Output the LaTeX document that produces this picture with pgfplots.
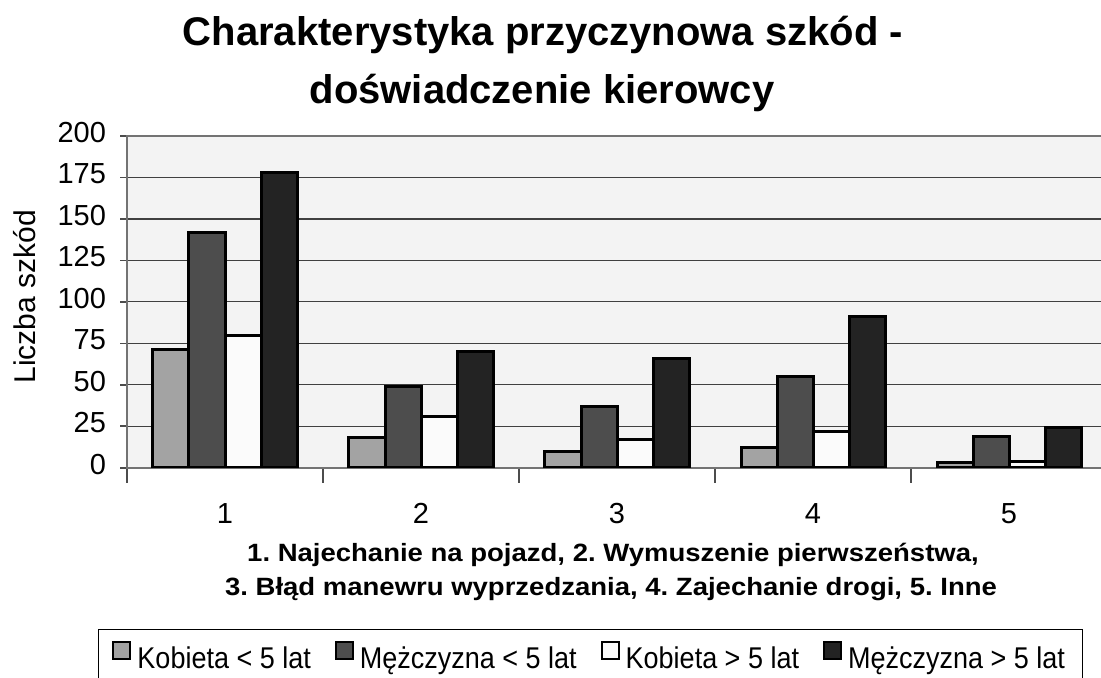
\documentclass[border=0pt]{standalone}
\usepackage{fontspec}
\setmainfont{Liberation Sans}
\newfontfamily\legfont[FakeStretch=0.9]{Liberation Sans}
\newfontfamily\xlabfont[FakeStretch=1.1]{Liberation Sans}
\usepackage{pgfplots}
\pgfplotsset{compat=1.18}
\definecolor{cA}{HTML}{A3A3A3}
\definecolor{cB}{HTML}{4D4D4D}
\definecolor{cC}{HTML}{FBFBFB}
\definecolor{cD}{HTML}{232323}
\definecolor{bggray}{HTML}{F3F3F3}
\begin{document}
\frenchspacing
\begin{tikzpicture}[x=1pt,y=1pt]
\useasboundingbox (0,0) rectangle (550.5,338.5);
\begin{axis}[
  at={(63.5pt,104.65pt)}, anchor=south west,
  scale only axis, width=490pt, height=165.85pt,
  xmin=0.5, xmax=5.5, ymin=0, ymax=200,
  ytick={0,25,...,200},
  xtick={1,2,3,4,5},
  minor xtick={0.5,1.5,2.5,3.5,4.5,5.5},
  xtick pos=bottom, ytick pos=left,
  tick align=outside,
  major tick length=3.5pt, minor tick length=7.5pt,
  major x tick style={draw=none},
  minor x tick style={draw=black!70, line width=0.8pt},
  ytick style={draw=black!70, line width=0.8pt},
  ymajorgrids,
  grid style={draw=black!75, line width=0.6pt},
  axis line style={draw=gray!90!black, line width=1.2pt},
  axis background/.style={fill=bggray},
  /pgf/number format/assume math mode=true,
  typeset ticklabels with strut,
  tick label style={font=\fontsize{14.5}{16}\selectfont},
  yticklabel style={xshift=-3.5pt},
  xticklabel style={yshift=-9.5pt},
  ylabel={Liczba szkód},
  ylabel style={at={(axis description cs:-0.104,0.515)}, anchor=center, font=\fontsize{15}{17}\selectfont},
  ybar, bar width=0.1837,
  every axis plot/.append style={draw=black, line width=1.5pt},
  legend columns=4,
  legend image code/.code={\draw[#1, line width=1pt] (0pt,0pt) rectangle (8.5pt,8.5pt);},
  legend style={at={(-0.0296,-0.486)}, anchor=north west, draw=black, line width=0.5pt,
    font=\legfont\fontsize{15}{18}\selectfont, inner xsep=7pt, inner ysep=6pt,
    /tikz/every odd column/.append style={column sep=1pt},
    /tikz/every even column/.append style={column sep=10pt},
    nodes={inner xsep=2pt}},
]
\addplot[fill=cA, bar shift=-0.27555] coordinates {(1,71) (2,18) (3,10) (4,12) (5,3)};
\addplot[fill=cB, bar shift=-0.09185] coordinates {(1,142) (2,49) (3,37) (4,55) (5,19)};
\addplot[fill=cC, bar shift=0.09185] coordinates {(1,80) (2,31) (3,17) (4,22) (5,4)};
\addplot[fill=cD, bar shift=0.27555] coordinates {(1,178) (2,70) (3,66) (4,91) (5,24)};
\legend{Kobieta < 5 lat, Mężczyzna < 5 lat, Kobieta > 5 lat, Mężczyzna > 5 lat}
\end{axis}
\node[anchor=base, font=\bfseries\fontsize{20}{22}\selectfont] at (271.5,316) {Charakterystyka przyczynowa szkód -};
\node[anchor=base, font=\bfseries\fontsize{20}{22}\selectfont] at (271,287) {doświadczenie kierowcy};
\node[anchor=base, font=\xlabfont\bfseries\fontsize{12.5}{14}\selectfont] at (306.5,58) {1. Najechanie na pojazd, 2. Wymuszenie pierwszeństwa,};
\node[anchor=base, font=\xlabfont\bfseries\fontsize{12.5}{14}\selectfont] at (305.5,41) {3. Błąd manewru wyprzedzania, 4. Zajechanie drogi, 5. Inne};
\end{tikzpicture}
\end{document}
